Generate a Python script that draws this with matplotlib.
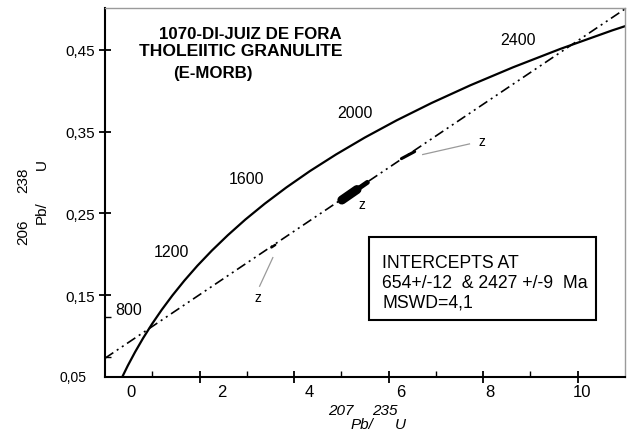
import matplotlib
matplotlib.use('Agg')
import matplotlib.pyplot as plt
import matplotlib.transforms as mtransforms
from matplotlib.patches import Rectangle

plt.rcParams['font.family'] = ['Liberation Sans', 'DejaVu Sans']

# concordia points (ages in Ma)
ages = [300, 400, 500, 600, 700, 800, 900, 1000, 1100, 1200, 1300, 1400, 1500,
        1600, 1700, 1800, 1900, 2000, 2100, 2200, 2300, 2400, 2500, 2600]
conc_x = [0.3437, 0.4828, 0.6363, 0.8056, 0.9925, 1.1987, 1.4263, 1.6774, 1.9545,
          2.2603, 2.5977, 2.9701, 3.3810, 3.8344, 4.3348, 4.8869, 5.4962, 6.1685,
          6.9105, 7.7291, 8.6326, 9.6296, 10.7297, 11.9437]
conc_y = [0.0476, 0.0640, 0.0806, 0.0975, 0.1147, 0.1321, 0.1498, 0.1678, 0.1861,
          0.2046, 0.2234, 0.2426, 0.2620, 0.2817, 0.3018, 0.3221, 0.3428, 0.3638,
          0.3851, 0.4067, 0.4287, 0.4511, 0.4738, 0.4968]

# age labels on the curve
age_labels = ['800', '1200', '1600', '2000', '2400']
age_lab_x = [0.50, 1.41, 2.99, 5.28, 8.73]
age_lab_y = [0.132, 0.204, 0.293, 0.374, 0.463]

# discordia line
disc_x = [0.0, 11.0]
disc_y = [0.073, 0.500]

# zircon ellipses (drawn as thick segments along the discordia)
big_ell_x = [4.99, 5.55]
big_ell_y = [0.2656, 0.2880]
big_core_x = [5.01, 5.33]
big_core_y = [0.2664, 0.2792]
small_ell_x = [6.27, 6.55]
small_ell_y = [0.317, 0.3256]
dot_ell_x = [3.52, 3.60]
dot_ell_y = [0.2085, 0.2115]

# "z" labels and leader lines
z_x = [5.43, 7.97, 3.23]
z_y = [0.262, 0.339, 0.148]
lead1_x = [6.72, 7.71]
lead1_y = [0.322, 0.335]
lead2_x = [3.55, 3.27]
lead2_y = [0.196, 0.161]

x_major = [2, 4, 6, 8, 10]
x_minor = [1, 3, 5, 7, 9]
x_lab_pos = [0.56, 2.47, 4.33, 6.25, 8.14, 10.09]
x_lab_txt = ['0', '2', '4', '6', '8', '10']
y_major = [0.15, 0.25, 0.35, 0.45]
y_major_lab = ['0,15', '0,25', '0,35', '0,45']
y_minor = [0.074, 0.123]

fig = plt.figure(figsize=(6.3, 4.35), dpi=100)
ax = fig.add_axes([0.1667, 0.131, 0.8254, 0.848])
ax.set_xlim(0, 11.0)
ax.set_ylim(0.05, 0.501)

ax.plot(conc_x, conc_y, color='black', lw=1.6, solid_capstyle='butt')
ax.plot(disc_x, disc_y, color='black', lw=1.2,
        dashes=(6, 2.5, 1.2, 2.5, 1.2, 2.5))

ax.plot(big_ell_x, big_ell_y, color='black', lw=3.5, solid_capstyle='round')
ax.plot(big_core_x, big_core_y, color='black', lw=6.5, solid_capstyle='round')
ax.plot(small_ell_x, small_ell_y, color='black', lw=2.2, solid_capstyle='round')
ax.plot(dot_ell_x, dot_ell_y, color='black', lw=1.8, solid_capstyle='round')

ax.plot(lead1_x, lead1_y, color='#9a9a9a', lw=0.9)
ax.plot(lead2_x, lead2_y, color='#9a9a9a', lw=0.9)
for zx, zy in zip(z_x, z_y):
    ax.text(zx, zy, 'z', fontsize=10, ha='center', va='center')

for lab, lx, ly in zip(age_labels, age_lab_x, age_lab_y):
    ax.text(lx, ly, lab, fontsize=11.5, ha='center', va='center')

# title block
ax.text(0.103, 0.93, '1070-DI-JUIZ DE FORA', transform=ax.transAxes,
        fontsize=12.2, fontweight='bold', va='center', ha='left')
ax.text(0.066, 0.885, 'THOLEIITIC GRANULITE', transform=ax.transAxes,
        fontsize=12.6, fontweight='bold', va='center', ha='left')
ax.text(0.131, 0.826, '(E-MORB)', transform=ax.transAxes,
        fontsize=12.2, fontweight='bold', va='center', ha='left')

# intercept box
ax.add_patch(Rectangle((0.508, 0.1545), 0.436, 0.2245, transform=ax.transAxes,
                       fill=False, edgecolor='black', lw=1.5))
ax.text(0.533, 0.333, 'INTERCEPTS AT\n654+/-12  & 2427 +/-9  Ma\nMSWD=4,1',
        transform=ax.transAxes, fontsize=12.7, va='top', ha='left',
        linespacing=1.2)

# spines and ticks
for s in ['left', 'bottom']:
    ax.spines[s].set_linewidth(1.5)
for s in ['top', 'right']:
    ax.spines[s].set_color('#9a9a9a')
    ax.spines[s].set_linewidth(1.0)

ax.set_xticks(x_major)
ax.set_xticks(x_minor, minor=True)
ax.set_xticklabels([])
ax.set_yticks(y_major)
ax.set_yticklabels(y_major_lab, fontsize=11)
ax.set_yticks(y_minor, minor=True)
ax.tick_params(which='major', direction='inout', length=8, width=1.3, pad=2)
ax.tick_params(which='minor', direction='in', length=4, width=1.0)
ax.tick_params(axis='y', which='major', pad=3)

trans = mtransforms.blended_transform_factory(ax.transData, ax.transAxes)
for lx, lt in zip(x_lab_pos, x_lab_txt):
    ax.text(lx, -0.038, lt, transform=trans, fontsize=12, ha='center', va='center')
ax.text(-0.035, 0.0, '0,05', transform=ax.transAxes, fontsize=10,
        ha='right', va='center')

# axis titles built from pieces
fig.text(341 / 630, 1 - 411 / 435, '207', fontsize=11, style='italic', ha='center', va='center')
fig.text(362 / 630, 1 - 425 / 435, 'Pb/', fontsize=11, style='italic', ha='center', va='center')
fig.text(385 / 630, 1 - 411 / 435, '235', fontsize=11, style='italic', ha='center', va='center')
fig.text(400 / 630, 1 - 425 / 435, 'U', fontsize=11, style='italic', ha='center', va='center')

fig.text(23 / 630, 1 - 232 / 435, '206', fontsize=11, rotation=90, ha='center', va='center')
fig.text(42 / 630, 1 - 213 / 435, 'Pb/', fontsize=11, rotation=90, ha='center', va='center')
fig.text(23 / 630, 1 - 180 / 435, '238', fontsize=11, rotation=90, ha='center', va='center')
fig.text(42 / 630, 1 - 165 / 435, 'U', fontsize=11, rotation=90, ha='center', va='center')

fig.savefig('out.png', dpi=100)
